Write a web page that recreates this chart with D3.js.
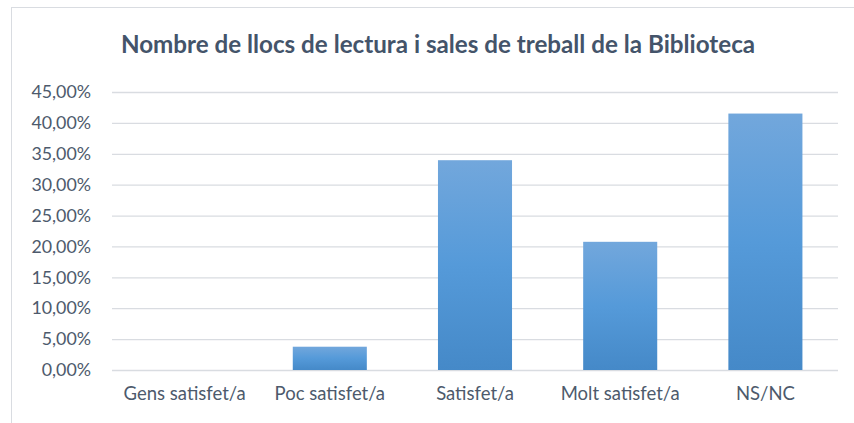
<!DOCTYPE html>
<html><head><meta charset="utf-8">
<script src="https://cdn.jsdelivr.net/npm/d3@7/dist/d3.min.js"></script>
<style>body{margin:0;background:#fff}svg{display:block}</style>
</head><body>
<script>
const categories = ["Gens satisfet/a","Poc satisfet/a","Satisfet/a","Molt satisfet/a","NS/NC"];
const values = [0, 0.0377, 0.3396, 0.2075, 0.4151];
const yTicks = [0,0.05,0.10,0.15,0.20,0.25,0.30,0.35,0.40,0.45];
const title = "Nombre de llocs de lectura i sales de treball de la Biblioteca";

const W=854,H=423;
const svg=d3.select("body").append("svg").attr("width",W).attr("height",H);
const font="Lato, 'Open Sans', sans-serif";
const defs=svg.append("defs");
const g=defs.append("linearGradient").attr("id","bg").attr("x1",0).attr("y1",0).attr("x2",0).attr("y2",1);
g.append("stop").attr("offset","0%").attr("stop-color","#72a7dc");
g.append("stop").attr("offset","50%").attr("stop-color","#559ad9");
g.append("stop").attr("offset","100%").attr("stop-color","#4589c8");

svg.append("rect").attr("x",11.5).attr("y",7.5).attr("width",W).attr("height",H).attr("fill","#fff").attr("stroke","#d9dce1");

const x=d3.scaleBand().domain(categories).range([112,838]).paddingInner(0.49).paddingOuter(0.245);
const y=d3.scaleLinear().domain([0,0.45]).range([370,92]);
const fmt=v=>d3.format(".2f")(v*100).replace(".",",")+"%";

svg.append("text").attr("x",438).attr("y",53).attr("text-anchor","middle")
 .attr("font-family",font).attr("font-weight","bold").attr("font-size",24.2).attr("fill","#44546a").text(title);

const ya=svg.append("g").attr("transform","translate(112,0)")
 .call(d3.axisLeft(y).tickValues(yTicks).tickFormat(fmt).tickSize(-726).tickPadding(21));
ya.select(".domain").remove();
ya.selectAll("line").attr("stroke","#d9dce1").attr("stroke-width",1.3);
ya.selectAll("text").attr("font-family",font).attr("font-size",17.8).attr("fill","#4d5a6c");

svg.append("g").selectAll("rect").data(values).join("rect")
 .attr("x",(d,i)=>x(categories[i])).attr("width",x.bandwidth())
 .attr("y",d=>y(d)).attr("height",d=>y(0)-y(d)).attr("fill","url(#bg)");

const xa=svg.append("g").attr("transform","translate(0,370)").call(d3.axisBottom(x).tickSize(0).tickPadding(17));
xa.select(".domain").remove();
xa.selectAll("text").attr("font-family",font).attr("font-size",18.5).attr("fill","#4d5a6c");
</script>
</body></html>
